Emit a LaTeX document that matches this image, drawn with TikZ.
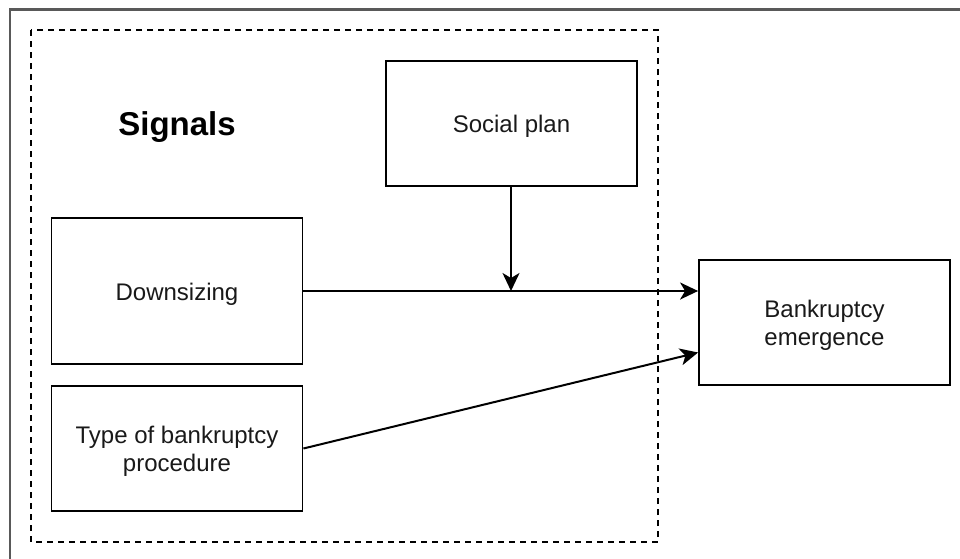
\documentclass[tikz,border=0pt]{standalone}
\usepackage{fontspec}
\setmainfont{Liberation Sans}
\usepackage{tikz}
\usetikzlibrary{arrows,arrows.meta,shapes,calc,positioning}
\newcommand{\lowtext}[1]{\raisebox{-3pt}[\height][\depth]{#1}}

\begin{document}
\begin{tikzpicture}[x=1pt, y=-1pt, line width=1.8pt]
   \useasboundingbox (0,0) rectangle (960,558);
   % page frame and group
   \draw[black!65, line width=2.5pt] (10,560) -- (10,9.5) -- (962,9.5);
   \draw[dash pattern=on 6pt off 5pt] (31,30) rectangle (658,542);
   \node (sig) at (177,127) {\fontsize{33}{36}\selectfont\bfseries Signals};
   \begin{scope}[every node/.style={rectangle,draw,align=center,minimum width=251pt,
       font=\fontsize{24}{28.5}\selectfont,text=black!90}]
    \node (plan) [minimum height=125pt] at (511.5,123.5) {\lowtext{Social plan}};
    \node (down) [minimum height=146pt] at (177,291) {\lowtext{Downsizing}};
    \node (type) [minimum height=125pt] at (177,448.5) {\lowtext{Type of bankruptcy}\\\lowtext{procedure}};
    \node (emer) [minimum height=125pt] at (824.5,322.5) {\lowtext{Bankruptcy}\\\lowtext{emergence}};
   \end{scope}
   \coordinate (join) at (511,291);
   \begin{scope}[-{Stealth[length=18pt,width=17pt,inset=5pt]}, line width=2pt]
    \draw (down) -- (emer.west |- down);
    \draw (plan.south -| join) -- (join);
    \draw (type.east) -- ($(emer.west)+(0,30)$);
   \end{scope}
\end{tikzpicture}
\end{document}
